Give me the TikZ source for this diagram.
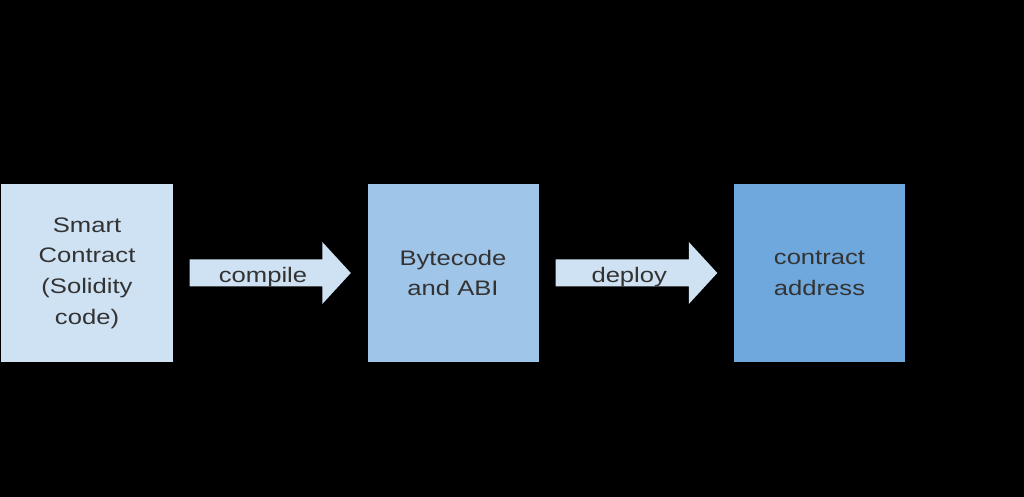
\documentclass[tikz,border=0pt]{standalone}
\usepackage{fontspec}
\setmainfont[FakeStretch=1.22]{Liberation Sans}
\usetikzlibrary{calc}
\definecolor{paleblue}{HTML}{CFE2F3}
\definecolor{midblue}{HTML}{9FC5E8}
\definecolor{deepblue}{HTML}{6FA8DC}

\tikzset{
  box/.style={minimum width=171bp, minimum height=178bp, inner sep=0pt,
    align=center, text=black!80, font=\fontsize{21bp}{30.7bp}\selectfont},
  verb/.style={anchor=base, inner sep=0pt, text=black!80,
    font=\fontsize{21bp}{24bp}\selectfont}
}

\begin{document}
\begin{tikzpicture}[x=1bp,y=1bp]
        \fill[black] (0,0) rectangle (1024,497);
        % the three stages
        \node[box, fill=paleblue] (smart) at (87,224) {Smart\\Contract\\(Solidity\\code)};
        \node[box, fill=midblue] (byte) at (453,224) {Bytecode\\and ABI};
        \node[box, fill=deepblue] (addr) at (819.5,224) {contract\\address};
        % fat arrows between them
        \foreach \a/\b/\t in {smart/byte/compile, byte/addr/deploy}{
            \fill[paleblue] ($(\a.east)+(17,13.5)$) -- ($(\b.west)+(-45,13.5)$)
                -- ($(\b.west)+(-45,31)$) -- ($(\b.west)+(-16.5,0)$)
                -- ($(\b.west)+(-45,-31)$) -- ($(\b.west)+(-45,-13.5)$)
                -- ($(\a.east)+(17,-13.5)$) -- cycle;
            \node[verb] (\t) at ($($(\a.east)!0.5!(\b.west)$)+(-7,-10)$) {\t};
        }
    \end{tikzpicture}
\end{document}
